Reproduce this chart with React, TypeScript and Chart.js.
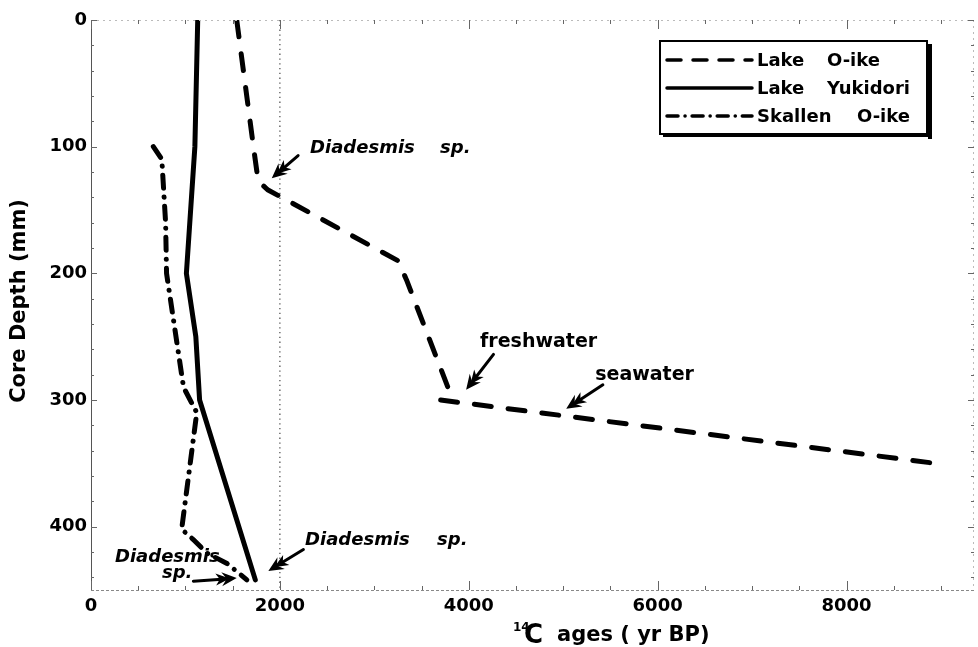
import React, { useEffect, useRef } from "react";
import { Chart, registerables } from "chart.js";
Chart.register(...registerables);

// ---- data (age in 14C yr BP, depth in mm) ----
const oikeAge = [1543, 1720, 1770, 1870, 3250, 3340, 3790, 3700, 8940];
const oikeDepth = [0, 100, 127, 134, 190, 205, 292, 300, 350];
const yukidoriAge = [1130, 1100, 1010, 1110, 1150, 1740];
const yukidoriDepth = [0, 100, 200, 250, 300, 442];
const skallenAge = [660, 750, 790, 800, 980, 1120, 960, 1080, 1230, 1440, 1650];
const skallenDepth = [100, 110, 160, 200, 290, 310, 402, 410, 421, 429, 442];
const refAge = [2000, 2000];
const refDepth = [0, 450];

const seriesNames = ["Lake O-ike", "Lake Yukidori", "Skallen O-ike"];
const xTicks = [0, 2000, 4000, 6000, 8000];
const yTicks = [0, 100, 200, 300, 400];
const xMin = 0, xMax = 9350, yMin = 0, yMax = 450;
const xMinorStep = 500, yMinorStep = 20;
const yTitle = "Core Depth (mm)";
const xTitleIso = "14";
const xTitleEl = "C";
const xTitleRest = "ages ( yr BP)";

// annotations: text anchor (data coords) + arrow tail/tip (data coords)
const annotations = [
  { words: [["Diadesmis", 0], ["sp.", 130]], at: [2320, 101], tail: [2193, 107], tip: [1914, 125], italic: true },
  { words: [["freshwater", 0]], at: [4120, 254], tail: [4262, 264], tip: [3972, 292], italic: false },
  { words: [["seawater", 0]], at: [5339, 280], tail: [5420, 288], tip: [5032, 307], italic: false },
  { words: [["Diadesmis", 0], ["sp.", 132]], at: [2267, 410.4], tail: [2249, 418], tip: [1878, 435], italic: true },
  { words: [["Diadesmis", 0]], at: [254, 424.6], tail: null, tip: null, italic: true },
  { words: [["sp.", 0]], at: [752, 437], tail: [1084, 443], tip: [1543, 440.6], italic: true },
];

const pts = (xs: number[], ys: number[]) => xs.map((x, i) => ({ x, y: ys[i] }));

const FONT = '"DejaVu Sans", "Liberation Sans", sans-serif';

const dashOike = [17, 17];
const dashSkallen = [13, 9, 0.1, 9];

function arrow(ctx: CanvasRenderingContext2D, x1: number, y1: number, x2: number, y2: number) {
  const ang = Math.atan2(y2 - y1, x2 - x1);
  const L = 15, W = 7;
  ctx.beginPath();
  ctx.lineWidth = 3;
  ctx.lineCap = "round";
  ctx.moveTo(x1, y1);
  ctx.lineTo(x2 - Math.cos(ang) * 8, y2 - Math.sin(ang) * 8);
  ctx.stroke();
  ctx.save();
  ctx.translate(x2, y2);
  ctx.rotate(ang);
  ctx.beginPath();
  ctx.moveTo(0, 0);
  ctx.lineTo(-L, -W);
  ctx.lineTo(-L + 5, 0);
  ctx.lineTo(-L, W);
  ctx.closePath();
  ctx.fill();
  ctx.beginPath();
  ctx.moveTo(-7, 0);
  ctx.lineTo(-L - 6, -W + 1);
  ctx.lineTo(-L - 2, 0);
  ctx.lineTo(-L - 6, W - 1);
  ctx.closePath();
  ctx.fill();
  ctx.restore();
}

const overlay = {
  id: "overlay",
  afterDraw(chart: any) {
    const ctx: CanvasRenderingContext2D = chart.ctx;
    const { left, right, top, bottom } = chart.chartArea;
    const xs = chart.scales.x, ys = chart.scales.y;
    const px = (v: number) => xs.getPixelForValue(v);
    const py = (v: number) => ys.getPixelForValue(v);
    ctx.save();
    // frame
    ctx.lineWidth = 1;
    ctx.strokeStyle = "#555";
    ctx.beginPath(); ctx.moveTo(left + 0.5, top); ctx.lineTo(left + 0.5, bottom); ctx.stroke();
    ctx.strokeStyle = "#888";
    ctx.setLineDash([3, 2]);
    ctx.beginPath(); ctx.moveTo(left, bottom + 0.5); ctx.lineTo(right, bottom + 0.5); ctx.stroke();
    ctx.strokeStyle = "#bbb";
    ctx.setLineDash([2, 4]);
    ctx.beginPath(); ctx.moveTo(left, top + 0.5); ctx.lineTo(right, top + 0.5); ctx.stroke();
    ctx.beginPath(); ctx.moveTo(right - 0.5, top); ctx.lineTo(right - 0.5, bottom); ctx.stroke();
    ctx.setLineDash([]);
    // ticks (inward)
    ctx.strokeStyle = "#666";
    for (let v = xMin; v <= xMax; v += xMinorStep) {
      const major = v % 2000 === 0;
      const len = major ? 9 : 4;
      const x = Math.round(px(v)) + 0.5;
      ctx.beginPath(); ctx.moveTo(x, bottom); ctx.lineTo(x, bottom - len); ctx.stroke();
      ctx.beginPath(); ctx.moveTo(x, top); ctx.lineTo(x, top + len); ctx.stroke();
    }
    for (let v = yMin; v <= yMax; v += yMinorStep) {
      const major = v % 100 === 0;
      const len = major ? 6 : 3;
      const y = Math.round(py(v)) + 0.5;
      ctx.beginPath(); ctx.moveTo(left, y); ctx.lineTo(left + len, y); ctx.stroke();
      ctx.beginPath(); ctx.moveTo(right, y); ctx.lineTo(right - len, y); ctx.stroke();
    }
    // legend
    const lx0 = 659, ly0 = 40, lx1 = 928, ly1 = 135;
    ctx.fillStyle = "#000";
    ctx.fillRect(lx1, ly0 + 4, 4, ly1 - ly0);
    ctx.fillRect(lx0 + 4, ly1, lx1 - lx0, 2);
    ctx.fillStyle = "#fff";
    ctx.fillRect(lx0, ly0, lx1 - lx0, ly1 - ly0);
    ctx.strokeStyle = "#000";
    ctx.lineWidth = 2;
    ctx.strokeRect(lx0 + 1, ly0 + 1, lx1 - lx0 - 2, ly1 - ly0 - 2);
    const rows = [60, 88, 116];
    const secondX = [827, 827, 857];
    const legendDash = [[14, 12], [], [11, 7, 0.1, 7]];
    ctx.font = `bold 18px ${FONT}`;
    ctx.textBaseline = "middle";
    ctx.textAlign = "left";
    ctx.fillStyle = "#000";
    seriesNames.forEach((name, i) => {
      ctx.lineWidth = 3.5;
      ctx.lineCap = "round";
      ctx.setLineDash(legendDash[i]);
      ctx.beginPath(); ctx.moveTo(667, rows[i]); ctx.lineTo(752, rows[i]); ctx.stroke();
      ctx.setLineDash([]);
      const w = name.split(" ");
      ctx.fillText(w[0], 757, rows[i] + 1);
      ctx.fillText(w[1], secondX[i], rows[i] + 1);
    });
    // annotations
    ctx.fillStyle = "#000";
    ctx.strokeStyle = "#000";
    annotations.forEach((a) => {
      const ax = px(a.at[0]), ay = py(a.at[1]);
      ctx.font = a.italic ? `italic bold 18px ${FONT}` : `bold 19px ${FONT}`;
      (a.words as any[]).forEach(([t, off]) => ctx.fillText(t, ax + off, ay));
      if (a.tail && a.tip) arrow(ctx, px(a.tail[0]), py(a.tail[1]), px(a.tip[0]), py(a.tip[1]));
    });
    // y title
    ctx.save();
    ctx.translate(20, 301);
    ctx.rotate(-Math.PI / 2);
    ctx.font = `bold 21px ${FONT}`;
    ctx.textAlign = "center";
    ctx.textBaseline = "middle";
    ctx.fillText(yTitle, 0, 0);
    ctx.restore();
    // x title
    ctx.textBaseline = "alphabetic";
    ctx.textAlign = "left";
    ctx.font = `bold 12px ${FONT}`;
    ctx.fillText(xTitleIso, 513, 631);
    ctx.font = `bold 26px ${FONT}`;
    ctx.fillText(xTitleEl, 524, 643);
    ctx.font = `bold 21px ${FONT}`;
    ctx.fillText(xTitleRest, 557, 641);
    ctx.restore();
  },
};

export default function App() {
  const ref = useRef<HTMLCanvasElement>(null);
  useEffect(() => {
    const tickFont = { family: FONT, weight: "bold" as const, size: 18 };
    const chart = new Chart(ref.current!, {
      type: "line",
      data: {
        datasets: [
          {
            label: seriesNames[0], data: pts(oikeAge, oikeDepth), borderColor: "#000",
            borderWidth: 5, borderDash: dashOike, borderCapStyle: "round",
            borderJoinStyle: "round", pointRadius: 0, tension: 0, fill: false,
          },
          {
            label: seriesNames[1], data: pts(yukidoriAge, yukidoriDepth), borderColor: "#000",
            borderWidth: 5, borderCapStyle: "round", borderJoinStyle: "round",
            pointRadius: 0, tension: 0, fill: false,
          },
          {
            label: seriesNames[2], data: pts(skallenAge, skallenDepth), borderColor: "#000",
            borderWidth: 5, borderDash: dashSkallen, borderCapStyle: "round",
            borderJoinStyle: "round", pointRadius: 0, tension: 0, fill: false,
          },
          {
            label: "ref", data: pts(refAge, refDepth), borderColor: "#555",
            borderWidth: 1.3, borderDash: [1.3, 3.5], pointRadius: 0, fill: false,
          },
        ],
      },
      options: {
        responsive: false,
        animation: false,
        devicePixelRatio: 1,
        layout: { padding: { left: 0, top: 20, right: 4, bottom: 0 } },
        plugins: { legend: { display: false }, tooltip: { enabled: false }, title: { display: false } },
        scales: {
          x: {
            type: "linear", min: xMin, max: xMax,
            grid: { display: false, drawTicks: false }, border: { display: false },
            afterFit: (s: any) => { s.height = 57; },
            afterBuildTicks: (s: any) => { s.ticks = xTicks.map((v) => ({ value: v })); },
            ticks: { font: tickFont, color: "#000", padding: 6, maxRotation: 0, autoSkip: false, callback: (v: any) => String(v) },
          },
          y: {
            type: "linear", reverse: true, min: yMin, max: yMax,
            grid: { display: false, drawTicks: false }, border: { display: false },
            afterFit: (s: any) => { s.width = 91; },
            afterBuildTicks: (s: any) => { s.ticks = yTicks.map((v) => ({ value: v })); },
            ticks: { font: tickFont, color: "#000", padding: 4, autoSkip: false, callback: (v: any) => String(v) },
          },
        },
      },
      plugins: [overlay],
    } as any);
    return () => chart.destroy();
  }, []);
  return (
    <div style={{ position: "fixed", left: 0, top: 0, width: 978, height: 647, background: "#fff" }}>
      <canvas ref={ref} width={978} height={647} style={{ display: "block", width: 978, height: 647 }} />
    </div>
  );
}
